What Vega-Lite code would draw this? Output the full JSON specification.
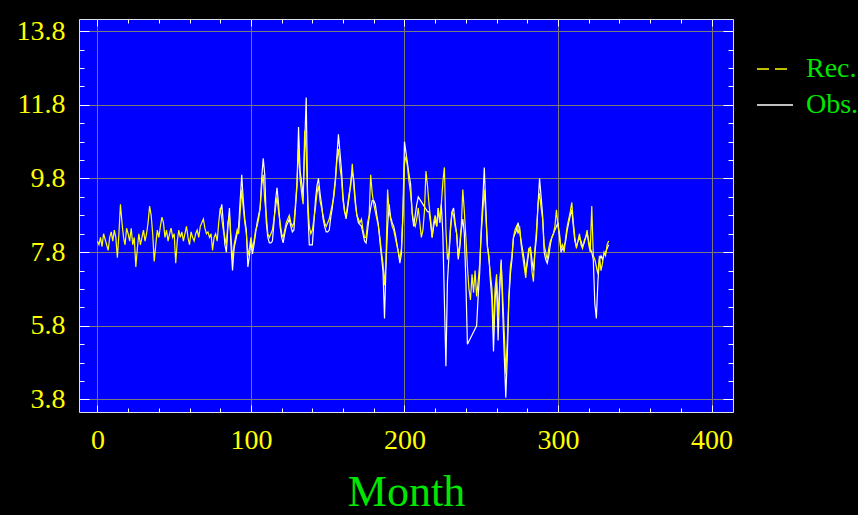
{
  "$schema": "https://vega.github.io/schema/vega-lite/v6.json",
  "autosize": {"type": "none"},
  "padding": {"left": 79, "top": 19, "right": 125, "bottom": 103},
  "width": 654,
  "height": 393,
  "background": "#000000",
  "config": {
    "view": {"fill": "#0000ff", "stroke": "#e0e0e0", "strokeWidth": 1}
  },
  "data": {"values": [
    {"m":0,"r":8.1},{"m":1,"r":8.0},{"m":2,"r":8.2},{"m":3,"r":7.95},{"m":4,"r":8.3},{"m":5,"r":8.15},{"m":6,"r":8.0},{"m":7,"r":7.85},{"m":8,"r":8.2},{"m":9,"r":8.35},
    {"m":10,"r":8.1},{"m":11,"r":8.4},{"m":12,"r":8.2},{"m":13,"r":7.65},{"m":14,"r":8.3},{"m":15,"r":9.1},{"m":16,"r":8.6},{"m":17,"r":8.2},{"m":18,"r":8.0},{"m":19,"r":8.45},
    {"m":20,"r":8.3},{"m":21,"r":8.1},{"m":22,"r":8.45},{"m":23,"r":8.0},{"m":24,"r":8.2},{"m":25,"r":7.4},{"m":26,"r":7.9},{"m":27,"r":8.3},{"m":28,"r":8.0},{"m":29,"r":8.2},
    {"m":30,"r":8.4},{"m":31,"r":8.1},{"m":32,"r":8.3},{"m":33,"r":8.6},{"m":34,"r":9.05},{"m":35,"r":8.8},{"m":36,"r":8.3},{"m":37,"r":7.55},{"m":38,"r":8.0},{"m":39,"r":8.4},
    {"m":40,"r":8.2},{"m":41,"r":8.5},{"m":42,"r":8.75},{"m":43,"r":8.6},{"m":44,"r":8.2},{"m":45,"r":8.4},{"m":46,"r":8.1},{"m":47,"r":8.3},{"m":48,"r":8.45},{"m":49,"r":8.2},
    {"m":50,"r":8.3},{"m":51,"r":7.5},{"m":52,"r":8.1},{"m":53,"r":8.4},{"m":54,"r":8.2},{"m":55,"r":8.35},{"m":56,"r":8.1},{"m":57,"r":8.3},{"m":58,"r":8.5},{"m":59,"r":8.2},
    {"m":60,"r":8.0},{"m":61,"r":8.35},{"m":62,"r":8.2},{"m":63,"r":8.1},{"m":64,"r":8.3},{"m":65,"r":8.4},{"m":66,"r":8.2},{"m":67,"r":8.5},{"m":68,"r":8.6},{"m":69,"r":8.7},
    {"m":70,"r":8.45},{"m":71,"r":8.3},{"m":72,"r":8.35},{"m":73,"r":8.2},{"m":74,"r":8.3},{"m":75,"r":7.85},{"m":76,"r":8.2},{"m":77,"r":8.3},{"m":78,"r":8.1},{"m":79,"r":8.6},
    {"m":80,"r":9.0,"o":8.9},{"m":81,"r":8.7,"o":9.1},{"m":82,"r":8.4,"o":8.6},{"m":83,"r":8.2,"o":8.0},{"m":84,"r":8.0,"o":7.8},{"m":85,"r":8.6,"o":8.5},{"m":86,"r":8.8,"o":9.0},{"m":87,"r":8.2,"o":8.0},{"m":88,"r":7.6,"o":7.3},{"m":89,"r":8.0,"o":7.9},
    {"m":90,"r":8.2,"o":8.1},{"m":91,"r":8.4,"o":8.3},{"m":92,"r":8.3,"o":8.5},{"m":93,"r":8.9,"o":9.2},{"m":94,"r":9.5,"o":9.9},{"m":95,"r":9.0,"o":9.2},{"m":96,"r":8.6,"o":8.7},{"m":97,"r":8.3,"o":8.4},{"m":98,"r":7.7,"o":7.4},{"m":99,"r":7.9,"o":7.7},
    {"m":100,"r":8.2,"o":8.1},{"m":101,"r":7.9,"o":7.75},{"m":102,"r":8.1,"o":8.0},{"m":103,"r":8.4,"o":8.3},{"m":104,"r":8.5,"o":8.6},{"m":105,"r":8.7,"o":8.8},{"m":106,"r":9.0,"o":9.0},{"m":107,"r":9.6,"o":9.8},{"m":108,"r":9.9,"o":10.35},{"m":109,"r":9.2,"o":9.9},
    {"m":110,"r":8.8,"o":8.6},{"m":111,"r":8.3,"o":8.2},{"m":112,"r":8.2,"o":8.05},{"m":113,"r":8.3,"o":8.05},{"m":114,"r":8.4,"o":8.1},{"m":115,"r":8.7,"o":8.6},{"m":116,"r":9.0,"o":9.2},{"m":117,"r":9.3,"o":9.55},{"m":118,"r":8.9,"o":9.1},{"m":119,"r":8.6,"o":8.5},
    {"m":120,"r":8.3,"o":8.2},{"m":121,"r":8.2,"o":8.05},{"m":122,"r":8.4,"o":8.3},{"m":123,"r":8.6,"o":8.5},{"m":124,"r":8.7,"o":8.6},{"m":125,"r":8.8,"o":8.7},{"m":126,"r":8.6,"o":8.5},{"m":127,"r":8.5,"o":8.35},{"m":128,"r":8.6,"o":8.4},{"m":129,"r":9.1,"o":9.0},
    {"m":130,"r":9.7,"o":9.6},{"m":131,"r":10.6,"o":11.2},{"m":132,"r":9.8,"o":10.0},{"m":133,"r":9.4,"o":9.7},{"m":134,"r":9.1,"o":9.3},{"m":135,"r":11.1,"o":10.7},{"m":136,"r":10.5,"o":12.0},{"m":137,"r":9.2,"o":9.0},{"m":138,"r":8.5,"o":8.0},{"m":139,"r":8.3,"o":8.0},
    {"m":140,"r":8.4,"o":8.0},{"m":141,"r":8.7,"o":8.6},{"m":142,"r":9.0,"o":9.2},{"m":143,"r":9.4,"o":9.6},{"m":144,"r":9.6,"o":9.8},{"m":145,"r":9.2,"o":9.4},{"m":146,"r":9.0,"o":9.1},{"m":147,"r":8.8,"o":8.7},{"m":148,"r":8.6,"o":8.5},{"m":149,"r":8.5,"o":8.35},
    {"m":150,"r":8.6,"o":8.35},{"m":151,"r":8.7,"o":8.4},{"m":152,"r":8.9,"o":8.75},{"m":153,"r":9.1,"o":9.0},{"m":154,"r":9.3,"o":9.4},{"m":155,"r":9.7,"o":9.8},{"m":156,"r":10.3,"o":10.4},{"m":157,"r":10.6,"o":11.0},{"m":158,"r":10.1,"o":10.5},{"m":159,"r":9.8,"o":10.0},
    {"m":160,"r":9.2,"o":9.3},{"m":161,"r":8.9,"o":8.9},{"m":162,"r":8.8,"o":8.7},{"m":163,"r":9.1,"o":9.0},{"m":164,"r":9.4,"o":9.3},{"m":165,"r":9.6,"o":9.7},{"m":166,"r":10.2,"o":10.0},{"m":167,"r":9.6,"o":9.75},{"m":168,"r":9.1,"o":9.2},{"m":169,"r":8.8,"o":8.8},
    {"m":170,"r":8.7,"o":8.6},{"m":171,"r":8.6,"o":8.55},{"m":172,"r":8.7,"o":8.5},{"m":173,"r":8.4,"o":8.3},{"m":174,"r":8.2,"o":8.1},{"m":175,"r":8.2,"o":8.05},{"m":176,"r":8.6,"o":8.4},{"m":177,"r":8.8,"o":8.75},{"m":178,"r":9.9,"o":9.0},{"m":179,"r":9.4,"o":9.2},
    {"m":180,"r":9.1,"o":9.2},{"m":181,"r":8.9,"o":9.1},{"m":182,"r":8.7,"o":8.8},{"m":183,"r":8.5,"o":8.55},{"m":184,"r":8.2,"o":8.1},{"m":185,"r":7.8,"o":7.7},{"m":186,"r":7.5,"o":7.3},{"m":187,"r":6.9,"o":6.0},{"m":188,"r":7.6,"o":7.5},{"m":189,"r":9.5,"o":8.5},
    {"m":190,"r":8.9,"o":9.1},{"m":191,"r":8.7,"o":8.75},{"m":192,"r":8.5,"o":8.6},{"m":193,"r":8.4,"o":8.5},{"m":194,"r":8.2,"o":8.3},{"m":195,"r":8.0,"o":8.05},{"m":196,"r":7.8,"o":7.8},{"m":197,"r":7.6,"o":7.5},{"m":198,"r":7.9,"o":7.75},{"m":199,"r":8.8,"o":8.85},
    {"m":200,"r":10.2,"o":10.8},{"m":201,"r":10.4,"o":10.5},{"m":202,"r":10.1,"o":10.2},{"m":203,"r":9.7,"o":9.9},{"m":204,"r":9.4,"o":9.65},{"m":205,"r":8.9,"o":8.85},{"m":206,"r":8.6,"o":8.5},{"m":207,"r":8.5,"o":8.8},{"m":208,"r":8.7,"o":9.1},{"m":209,"r":9.0,"o":9.3},
    {"m":210,"r":8.6},{"m":211,"r":8.2},{"m":212,"r":8.4},{"m":213,"r":8.9},{"m":214,"r":10.0},{"m":215,"r":9.6,"o":8.9},{"m":216,"r":9.1,"o":8.9},{"m":217,"r":8.7,"o":8.6},{"m":218,"r":8.2,"o":8.2},{"m":219,"r":8.6,"o":8.5},
    {"m":220,"r":8.8,"o":8.7},{"m":221,"r":8.5,"o":8.5},{"m":222,"r":9.0,"o":9.0},{"m":223,"r":8.6,"o":8.6},{"m":224,"r":9.1,"o":9.1},{"m":225,"r":9.7,"o":8.3},{"m":226,"r":10.1,"o":6.5},{"m":227,"r":8.4,"o":4.7},{"m":228,"r":7.6,"o":7.0},{"m":229,"r":7.8,"o":7.7},
    {"m":230,"r":8.5,"o":8.4},{"m":231,"r":8.9,"o":8.9},{"m":232,"r":8.8,"o":9.0},{"m":233,"r":8.5,"o":8.6},{"m":234,"r":8.3,"o":8.3},{"m":235,"r":7.7,"o":7.6},{"m":236,"r":8.0,"o":7.9},{"m":237,"r":8.5,"o":8.4},{"m":238,"r":9.5,"o":8.7},{"m":239,"r":8.9,"o":8.3},
    {"m":240,"r":8.2,"o":7.0},{"m":241,"r":7.4,"o":5.3},{"m":242,"r":6.8},{"m":243,"r":6.5},{"m":244,"r":7.2},{"m":245,"r":6.7},{"m":246,"r":7.3},{"m":247,"r":6.6,"o":5.8},{"m":248,"r":7.0,"o":6.6},{"m":249,"r":7.5,"o":7.25},
    {"m":250,"r":8.3,"o":8.4},{"m":251,"r":8.9,"o":9.2},{"m":252,"r":9.5,"o":10.1},{"m":253,"r":8.8,"o":9.0},{"m":254,"r":8.0,"o":7.95},{"m":255,"r":7.6,"o":7.7},{"m":256,"r":7.2,"o":7.0},{"m":257,"r":6.8,"o":6.5},{"m":258,"r":5.6,"o":5.1},{"m":259,"r":6.8,"o":6.5},
    {"m":260,"r":7.2,"o":7.0},{"m":261,"r":6.0,"o":5.4},{"m":262,"r":6.9,"o":6.8},{"m":263,"r":7.5,"o":7.6},{"m":264,"r":6.6,"o":6.2},{"m":265,"r":5.6,"o":5.0},{"m":266,"r":4.5,"o":3.85},{"m":267,"r":5.4,"o":5.0},{"m":268,"r":6.6,"o":6.5},{"m":269,"r":7.4,"o":7.2},
    {"m":270,"r":7.7,"o":7.6},{"m":271,"r":8.2,"o":8.2},{"m":272,"r":8.4,"o":8.3},{"m":273,"r":8.5,"o":8.4},{"m":274,"r":8.3,"o":8.6},{"m":275,"r":8.5,"o":8.4},{"m":276,"r":8.0,"o":8.1},{"m":277,"r":7.7,"o":7.85},{"m":278,"r":7.4,"o":7.6},{"m":279,"r":7.1,"o":7.25},
    {"m":280,"r":7.6,"o":7.5},{"m":281,"r":7.9,"o":7.8},{"m":282,"r":7.9,"o":7.95},{"m":283,"r":7.3,"o":7.6},{"m":284,"r":7.0,"o":7.3},{"m":285,"r":7.9,"o":7.8},{"m":286,"r":8.4,"o":8.2},{"m":287,"r":9.1,"o":9.1},{"m":288,"r":9.4,"o":9.8},{"m":289,"r":9.0,"o":9.3},
    {"m":290,"r":8.7,"o":8.8},{"m":291,"r":8.0,"o":7.8},{"m":292,"r":7.8,"o":7.6},{"m":293,"r":7.6,"o":7.5},{"m":294,"r":7.9,"o":7.7},{"m":295,"r":8.1,"o":8.0},{"m":296,"r":8.2,"o":8.2},{"m":297,"r":8.3,"o":8.3},{"m":298,"r":8.5,"o":8.4},{"m":299,"r":8.95,"o":8.5},
    {"m":300,"r":8.5,"o":8.6},{"m":301,"r":8.3,"o":8.2},{"m":302,"r":7.9,"o":7.8},{"m":303,"r":8.0,"o":7.9},{"m":304,"r":7.8,"o":7.95},{"m":305,"r":8.2,"o":8.1},{"m":306,"r":8.5,"o":8.4},{"m":307,"r":8.7,"o":8.6},{"m":308,"r":8.9,"o":8.8},{"m":309,"r":9.15,"o":8.95},
    {"m":310,"r":8.6,"o":8.5},{"m":311,"r":8.2,"o":8.1},{"m":312,"r":7.9,"o":7.95},{"m":313,"r":8.1,"o":8.1},{"m":314,"r":8.3,"o":8.2},{"m":315,"r":8.0,"o":8.1},{"m":316,"r":7.9,"o":7.95},{"m":317,"r":8.1,"o":8.05},{"m":318,"r":8.2,"o":8.2},{"m":319,"r":8.4,"o":8.3},
    {"m":320,"r":8.0,"o":8.1},{"m":321,"r":7.8,"o":7.9},{"m":322,"r":9.05,"o":7.8},{"m":323,"r":7.7,"o":7.6},{"m":324,"r":7.6,"o":6.4},{"m":325,"r":7.4,"o":6.0},{"m":326,"r":7.2,"o":7.0},{"m":327,"r":7.7,"o":7.6},{"m":328,"r":7.3,"o":7.7},{"m":329,"r":7.5,"o":7.6},
    {"m":330,"r":7.8,"o":7.75},{"m":331,"r":7.7,"o":7.8},{"m":332,"r":8.0,"o":7.9},{"m":333,"r":8.1,"o":8.0}
  ]},
  "resolve": {"axis": {"x": "independent", "y": "independent"}},
  "layer": [
    {
      "transform": [{"filter": "isValid(datum.o)"}],
      "mark": {"type": "line", "strokeWidth": 1.2, "clip": true},
      "encoding": {
        "x": {"field": "m", "type": "quantitative",
          "scale": {"domain": [-12, 414], "nice": false, "zero": false},
          "axis": {"orient": "bottom",
            "values": [0,20,40,60,80,100,120,140,160,180,200,220,240,260,280,300,320,340,360,380,400],
            "format": "d",
            "labelExpr": "datum.value % 100 === 0 ? datum.label : ''",
            "labelFont": "Liberation Serif", "labelFontSize": 28, "labelColor": "#ffff00",
            "labelPadding": 21, "labelOverlap": false, "labelFlush": false, "labelBound": false,
            "tickColor": "#ffffff", "tickWidth": 1,
            "tickSize": {"condition": {"test": "datum.value % 100 === 0", "value": -7}, "value": -4},
            "grid": true, "gridColor": "#7a7a7a", "gridWidth": 1,
            "gridOpacity": {"condition": {"test": "datum.value % 100 === 0", "value": 1}, "value": 0},
            "domain": false,
            "title": "Month", "titleFont": "Liberation Serif", "titleFontSize": 44,
            "titleFontWeight": "normal", "titleColor": "#00e600", "titlePadding": 13}},
        "y": {"field": "o", "type": "quantitative",
          "scale": {"domain": [3.46, 14.13], "nice": false, "zero": false},
          "axis": {"orient": "left",
            "values": [3.8,4.3,4.8,5.3,5.8,6.3,6.8,7.3,7.8,8.3,8.8,9.3,9.8,10.3,10.8,11.3,11.8,12.3,12.8,13.3,13.8],
            "format": ".1f",
            "labelExpr": "abs((datum.value-3.8)/2 - round((datum.value-3.8)/2)) < 0.01 ? datum.label : ''",
            "labelFont": "Liberation Serif", "labelFontSize": 28, "labelColor": "#ffff00",
            "labelPadding": 24, "labelOverlap": false, "labelFlush": false, "labelBound": false,
            "tickColor": "#ffffff", "tickWidth": 1,
            "tickSize": {"condition": {"test": "abs((datum.value-3.8)/2 - round((datum.value-3.8)/2)) < 0.01", "value": -10}, "value": -5},
            "grid": true, "gridColor": "#7a7a7a", "gridWidth": 1,
            "gridOpacity": {"condition": {"test": "abs((datum.value-3.8)/2 - round((datum.value-3.8)/2)) < 0.01", "value": 1}, "value": 0},
            "domain": false, "title": null}},
        "color": {"datum": "Obs.", "type": "nominal",
          "scale": {"domain": ["Rec.", "Obs."], "range": ["#ffff00", "#ffffff"]},
          "legend": {"orient": "none", "legendX": 677, "legendY": 31, "title": null,
            "labelFont": "Liberation Serif", "labelFontSize": 28, "labelColor": "#00e600",
            "symbolType": "stroke", "symbolSize": 1296, "symbolStrokeWidth": 1.5,
            "labelOffset": 12, "rowPadding": 3,
            "encode": {"symbols": {"update": {"strokeDash": {"signal": "datum.value === 'Rec.' ? [12, 6] : [1, 0]"}}}}}}
      }
    },
    {
      "mark": {"type": "line", "strokeWidth": 1.2, "clip": true},
      "encoding": {
        "x": {"field": "m", "type": "quantitative",
          "axis": {"orient": "top",
            "values": [0,20,40,60,80,100,120,140,160,180,200,220,240,260,280,300,320,340,360,380,400],
            "labels": false, "grid": false, "domain": false, "title": null,
            "tickColor": "#ffffff", "tickWidth": 1,
            "tickSize": {"condition": {"test": "datum.value % 100 === 0", "value": -7}, "value": -4}}},
        "y": {"field": "r", "type": "quantitative",
          "axis": {"orient": "right",
            "values": [3.8,4.3,4.8,5.3,5.8,6.3,6.8,7.3,7.8,8.3,8.8,9.3,9.8,10.3,10.8,11.3,11.8,12.3,12.8,13.3,13.8],
            "labels": false, "grid": false, "domain": false, "title": null,
            "tickColor": "#ffffff", "tickWidth": 1,
            "tickSize": {"condition": {"test": "abs((datum.value-3.8)/2 - round((datum.value-3.8)/2)) < 0.01", "value": -10}, "value": -5}}},
        "color": {"datum": "Rec.", "type": "nominal"}
      }
    }
  ]
}
